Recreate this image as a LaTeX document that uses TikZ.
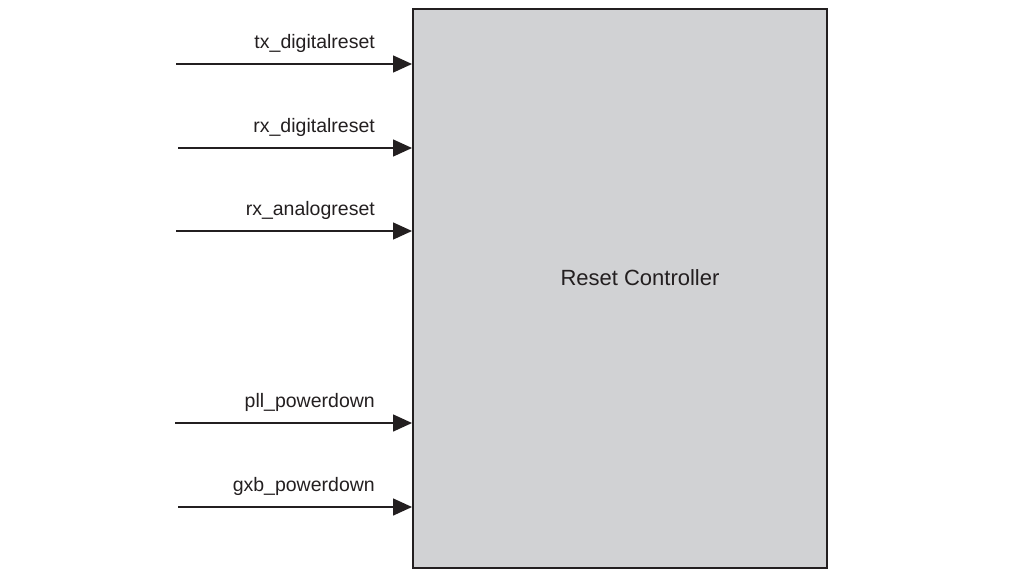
\documentclass[tikz,border=0pt]{standalone}
\usepackage{fontspec}
\setmainfont{Liberation Sans}
\newfontfamily\labfont{Liberation Sans}
\usetikzlibrary{arrows.meta}
\definecolor{boxgray}{HTML}{D1D2D4}
\definecolor{ink}{HTML}{231F20}
\tikzset{
  ctrl/.style={draw=ink, line width=2pt, fill=boxgray, inner sep=0pt},
  sig/.style={draw=ink, line width=1.5pt, -{Triangle[length=19pt,width=17pt]}},
  siglabel/.style={anchor=base east, inner sep=0pt, font=\labfont\fontsize{19.5}{23}\selectfont, text=ink},
}
\begin{document}
\begin{tikzpicture}[x=1pt,y=-1pt]
\useasboundingbox (0,0) rectangle (1015,582);
\node[ctrl, minimum width=414pt, minimum height=559pt, anchor=north west] (box) at (412,8) {};
\node[font=\labfont\fontsize{22}{26}\selectfont, text=ink] (title) at (640,278) {Reset Controller};
% signal start points
\coordinate (s1) at (176,64);
\coordinate (s2) at (178,148);
\coordinate (s3) at (176,231);
\coordinate (s4) at (175,423);
\coordinate (s5) at (178,507);
\foreach \i in {1,...,5} {\coordinate (e\i) at (s\i -| box.west);}
\draw[sig] (s1) -- (e1);
\draw[sig] (s2) -- (e2);
\draw[sig] (s3) -- (e3);
\draw[sig] (s4) -- (e4);
\draw[sig] (s5) -- (e5);
\node[siglabel] (l1) at (375,48) {tx\_digitalreset};
\node[siglabel] (l2) at (375,132) {rx\_digitalreset};
\node[siglabel] (l3) at (375,215) {rx\_analogreset};
\node[siglabel] (l4) at (375,407) {pll\_powerdown};
\node[siglabel] (l5) at (375,491) {gxb\_powerdown};
\end{tikzpicture}
\end{document}
